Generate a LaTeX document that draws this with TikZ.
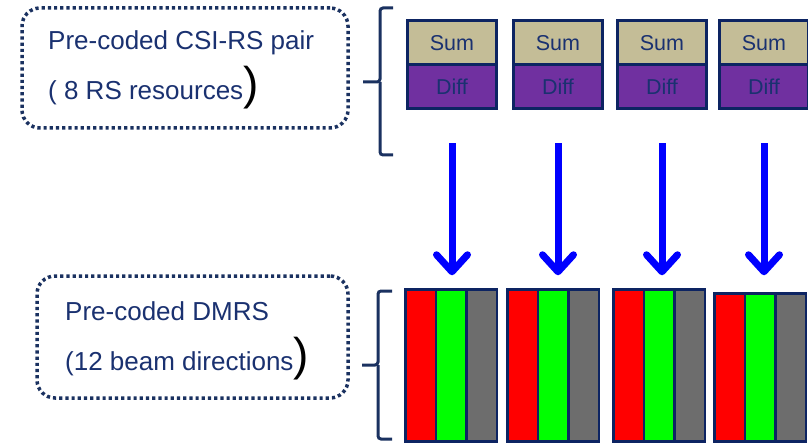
\documentclass[tikz,border=0pt]{standalone}
\usepackage{fontspec}
\setmainfont{Liberation Sans}
\usetikzlibrary{arrows.meta}

\definecolor{framenavy}{HTML}{1A3160}
\definecolor{cellnavy}{HTML}{0D2462}
\definecolor{textnavy}{HTML}{1A3170}
\definecolor{sumtan}{HTML}{C4BD97}
\definecolor{diffpurple}{HTML}{7030A0}
\definecolor{beamred}{HTML}{FF0000}
\definecolor{beamgreen}{HTML}{00FF00}
\definecolor{beamgray}{HTML}{6D6D6D}
\definecolor{flowblue}{HTML}{0000FF}

\newcommand{\tallparen}{{\color{black}\fontsize{46}{46}\selectfont)}}

\tikzset{
  notebox/.style={draw=framenavy, line width=3.5pt, dash pattern=on 3.2pt off 3pt,
    rounded corners=18pt, inner sep=0pt},
  notetext/.style={text=textnavy, font=\fontsize{26}{26}\selectfont, inner sep=0pt, anchor=base west},
  cell/.style={draw=cellnavy, line width=3pt, inner sep=0pt, minimum width=89pt,
    minimum height=44pt, text=textnavy, font=\fontsize{21.5}{21.5}\selectfont},
  sumcell/.style={cell, fill=sumtan},
  diffcell/.style={cell, fill=diffpurple},
  beam/.style={draw=cellnavy, line width=2.5pt, inner sep=0pt, minimum width=30.5pt},
  brace/.style={draw=framenavy, line width=3pt, rounded corners=3pt},
  flow/.style={draw=flowblue, line width=7pt,
    -{Straight Barb[length=17pt, width=31pt, line cap=round, line join=round]}}
}

\begin{document}
\begin{tikzpicture}[x=1pt,y=1pt]
\clip (0,0) rectangle (808,445);
\fill[white] (0,0) rectangle (808,445);

% left-hand notes
\node[notebox, minimum width=326pt, minimum height=120pt] (csinote) at (185,377) {};
\node[notetext] (csiline1) at (48,395) {Pre-coded CSI-RS pair};
\node[notetext] (csiline2) at (48,345) {( 8 RS resources\tallparen};
\node[notebox, minimum width=311pt, minimum height=122pt] (dmrsnote) at (192.5,108) {};
\node[notetext] (dmrsline1) at (65,125) {Pre-coded DMRS};
\node[notetext] (dmrsline2) at (65,75) {(12 beam directions\tallparen};

% braces
\draw[brace] (393,437) -| (380,363) -- (363,363);
\draw[brace] (380,363) |- (393,290);
\draw[brace] (392,154) -| (378,80) -- (362,80);
\draw[brace] (378,80) |- (392,6);

% CSI-RS pairs
\node[sumcell] (sum1) at (452,402) {Sum};
\node[diffcell] (diff1) at (452,358) {Diff};
\node[sumcell] (sum2) at (558,402) {Sum};
\node[diffcell] (diff2) at (558,358) {Diff};
\node[sumcell] (sum3) at (662,402) {Sum};
\node[diffcell] (diff3) at (662,358) {Diff};
\node[sumcell] (sum4) at (764,402) {Sum};
\node[diffcell] (diff4) at (764,358) {Diff};

% DMRS beams
\node[beam, fill=beamred, minimum height=152pt] (beam1a) at (420.8,79.5) {};
\node[beam, fill=beamgreen, minimum height=152pt] (beam1b) at (451.3,79.5) {};
\node[beam, fill=beamgray, minimum height=152pt] (beam1c) at (481.8,79.5) {};
\node[beam, fill=beamred, minimum height=152pt] (beam2a) at (522.8,79.5) {};
\node[beam, fill=beamgreen, minimum height=152pt] (beam2b) at (553.3,79.5) {};
\node[beam, fill=beamgray, minimum height=152pt] (beam2c) at (583.8,79.5) {};
\node[beam, fill=beamred, minimum height=152pt] (beam3a) at (628.8,79.5) {};
\node[beam, fill=beamgreen, minimum height=152pt] (beam3b) at (659.3,79.5) {};
\node[beam, fill=beamgray, minimum height=152pt] (beam3c) at (689.8,79.5) {};
\node[beam, fill=beamred, minimum height=148pt] (beam4a) at (729.8,77.5) {};
\node[beam, fill=beamgreen, minimum height=148pt] (beam4b) at (760.3,77.5) {};
\node[beam, fill=beamgray, minimum height=148pt] (beam4c) at (790.8,77.5) {};

% mapping arrows
\draw[flow, shorten <=33pt, shorten >=13pt] (diff1.south) -- (diff1.south |- beam1b.north);
\draw[flow, shorten <=33pt, shorten >=13pt] (diff2.south) -- (diff2.south |- beam2b.north);
\draw[flow, shorten <=33pt, shorten >=13pt] (diff3.south) -- (diff3.south |- beam3b.north);
\draw[flow, shorten <=33pt, shorten >=17pt] (diff4.south) -- (diff4.south |- beam4b.north);
\end{tikzpicture}
\end{document}
